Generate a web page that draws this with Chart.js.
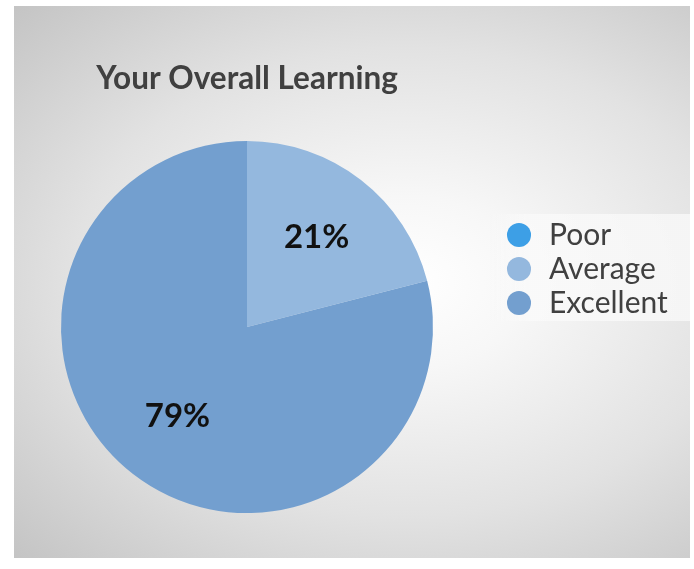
<!DOCTYPE html>
<html>
<head>
<meta charset="utf-8">
<script src="https://cdn.jsdelivr.net/npm/chart.js@4"></script>
<style>
  html, body { margin: 0; padding: 0; background: #ffffff; width: 694px; height: 569px; overflow: hidden; }
  #panel {
    position: absolute; left: 14px; top: 6px; width: 676px; height: 552px;
    background: radial-gradient(farthest-corner at 58% 50%, #ffffff 0%, #f7f7f7 22%, #e2e2e2 60%, #c4c4c4 100%);
  }
  #wrap { position: absolute; left: -20px; top: 0; width: 714px; height: 569px; }
</style>
</head>
<body>
<div id="panel"></div>
<div id="wrap"><canvas id="chart"></canvas></div>
<script>
// Survey answers and their shares (percent)
const categories = ['Poor', 'Average', 'Excellent'];
const shares = [0, 21, 79];
const sliceColors = ['#3D9FE6', '#94B8DE', '#739FCF'];
const chartTitle = 'Your Overall Learning';

// Legend metrics
const legendFont = { family: 'Lato', size: 30 };
const legendGap = 4;
const legendBox = 30;
const legendLeft = 520;      // x of the legend column inside the canvas
const canvasWidth = 714;

// Width the legend will ask for, so the right padding keeps it at legendLeft
function legendFitWidth() {
  const ctx = document.createElement('canvas').getContext('2d');
  ctx.font = legendFont.size + 'px ' + legendFont.family;
  const textW = Math.max(...categories.map(t => ctx.measureText(t).width));
  return legendGap + legendBox + legendFont.size / 2 + textW + 10;
}
const rightPad = canvasWidth - legendLeft - legendFitWidth();

// Soft light band behind the legend entries
const legendBand = {
  id: 'legendBand',
  beforeDraw(chart) {
    const lg = chart.legend;
    if (!lg || !lg.legendHitBoxes || !lg.legendHitBoxes.length) return;
    const hb = lg.legendHitBoxes;
    const top = hb[0].top - 6;
    const bottom = hb[hb.length - 1].top + hb[hb.length - 1].height + 3;
    const left = lg.left - 12;
    const right = chart.width - 4;
    const ctx = chart.ctx;
    const g = ctx.createLinearGradient(left, 0, left + 40, 0);
    g.addColorStop(0, 'rgba(250,250,250,0)');
    g.addColorStop(1, 'rgba(250,250,250,0.75)');
    ctx.save();
    ctx.fillStyle = g;
    ctx.fillRect(left, top, right - left, bottom - top);
    ctx.restore();
  }
};

// Percentage labels placed inside each non-empty slice
const sliceLabels = {
  id: 'sliceLabels',
  afterDatasetsDraw(chart) {
    const ctx = chart.ctx;
    const meta = chart.getDatasetMeta(0);
    const values = chart.data.datasets[0].data;
    ctx.save();
    ctx.font = 'bold 33px Lato';
    ctx.fillStyle = '#111111';
    ctx.textAlign = 'center';
    ctx.textBaseline = 'middle';
    meta.data.forEach((arc, i) => {
      if (!values[i]) return;
      const p = arc.getProps(['x', 'y', 'startAngle', 'endAngle', 'outerRadius'], true);
      const mid = (p.startAngle + p.endAngle) / 2;
      const r = p.outerRadius * 0.61;
      ctx.fillText(values[i] + '%', p.x + Math.cos(mid) * r, p.y + Math.sin(mid) * r);
    });
    ctx.restore();
  }
};

new Chart(document.getElementById('chart'), {
  type: 'pie',
  data: {
    labels: categories,
    datasets: [{
      data: shares,
      backgroundColor: sliceColors,
      borderWidth: 0
    }]
  },
  options: {
    responsive: true,
    maintainAspectRatio: false,
    animation: false,
    layout: { padding: { left: 14, right: rightPad, top: 25, bottom: 56 } },
    plugins: {
      title: {
        display: true,
        text: chartTitle,
        fullSize: false,
        align: 'center',
        color: '#404040',
        font: { family: 'Lato', size: 31.5, weight: 'bold', lineHeight: 1.2 },
        padding: { top: 35.1, bottom: 43.1 }
      },
      legend: {
        position: 'right',
        align: 'center',
        labels: {
          usePointStyle: true,
          pointStyle: 'circle',
          boxWidth: legendBox,
          boxHeight: 17,
          padding: legendGap,
          color: '#404040',
          font: legendFont
        }
      },
      tooltip: { enabled: false }
    }
  },
  plugins: [legendBand, sliceLabels]
});
</script>
</body>
</html>
